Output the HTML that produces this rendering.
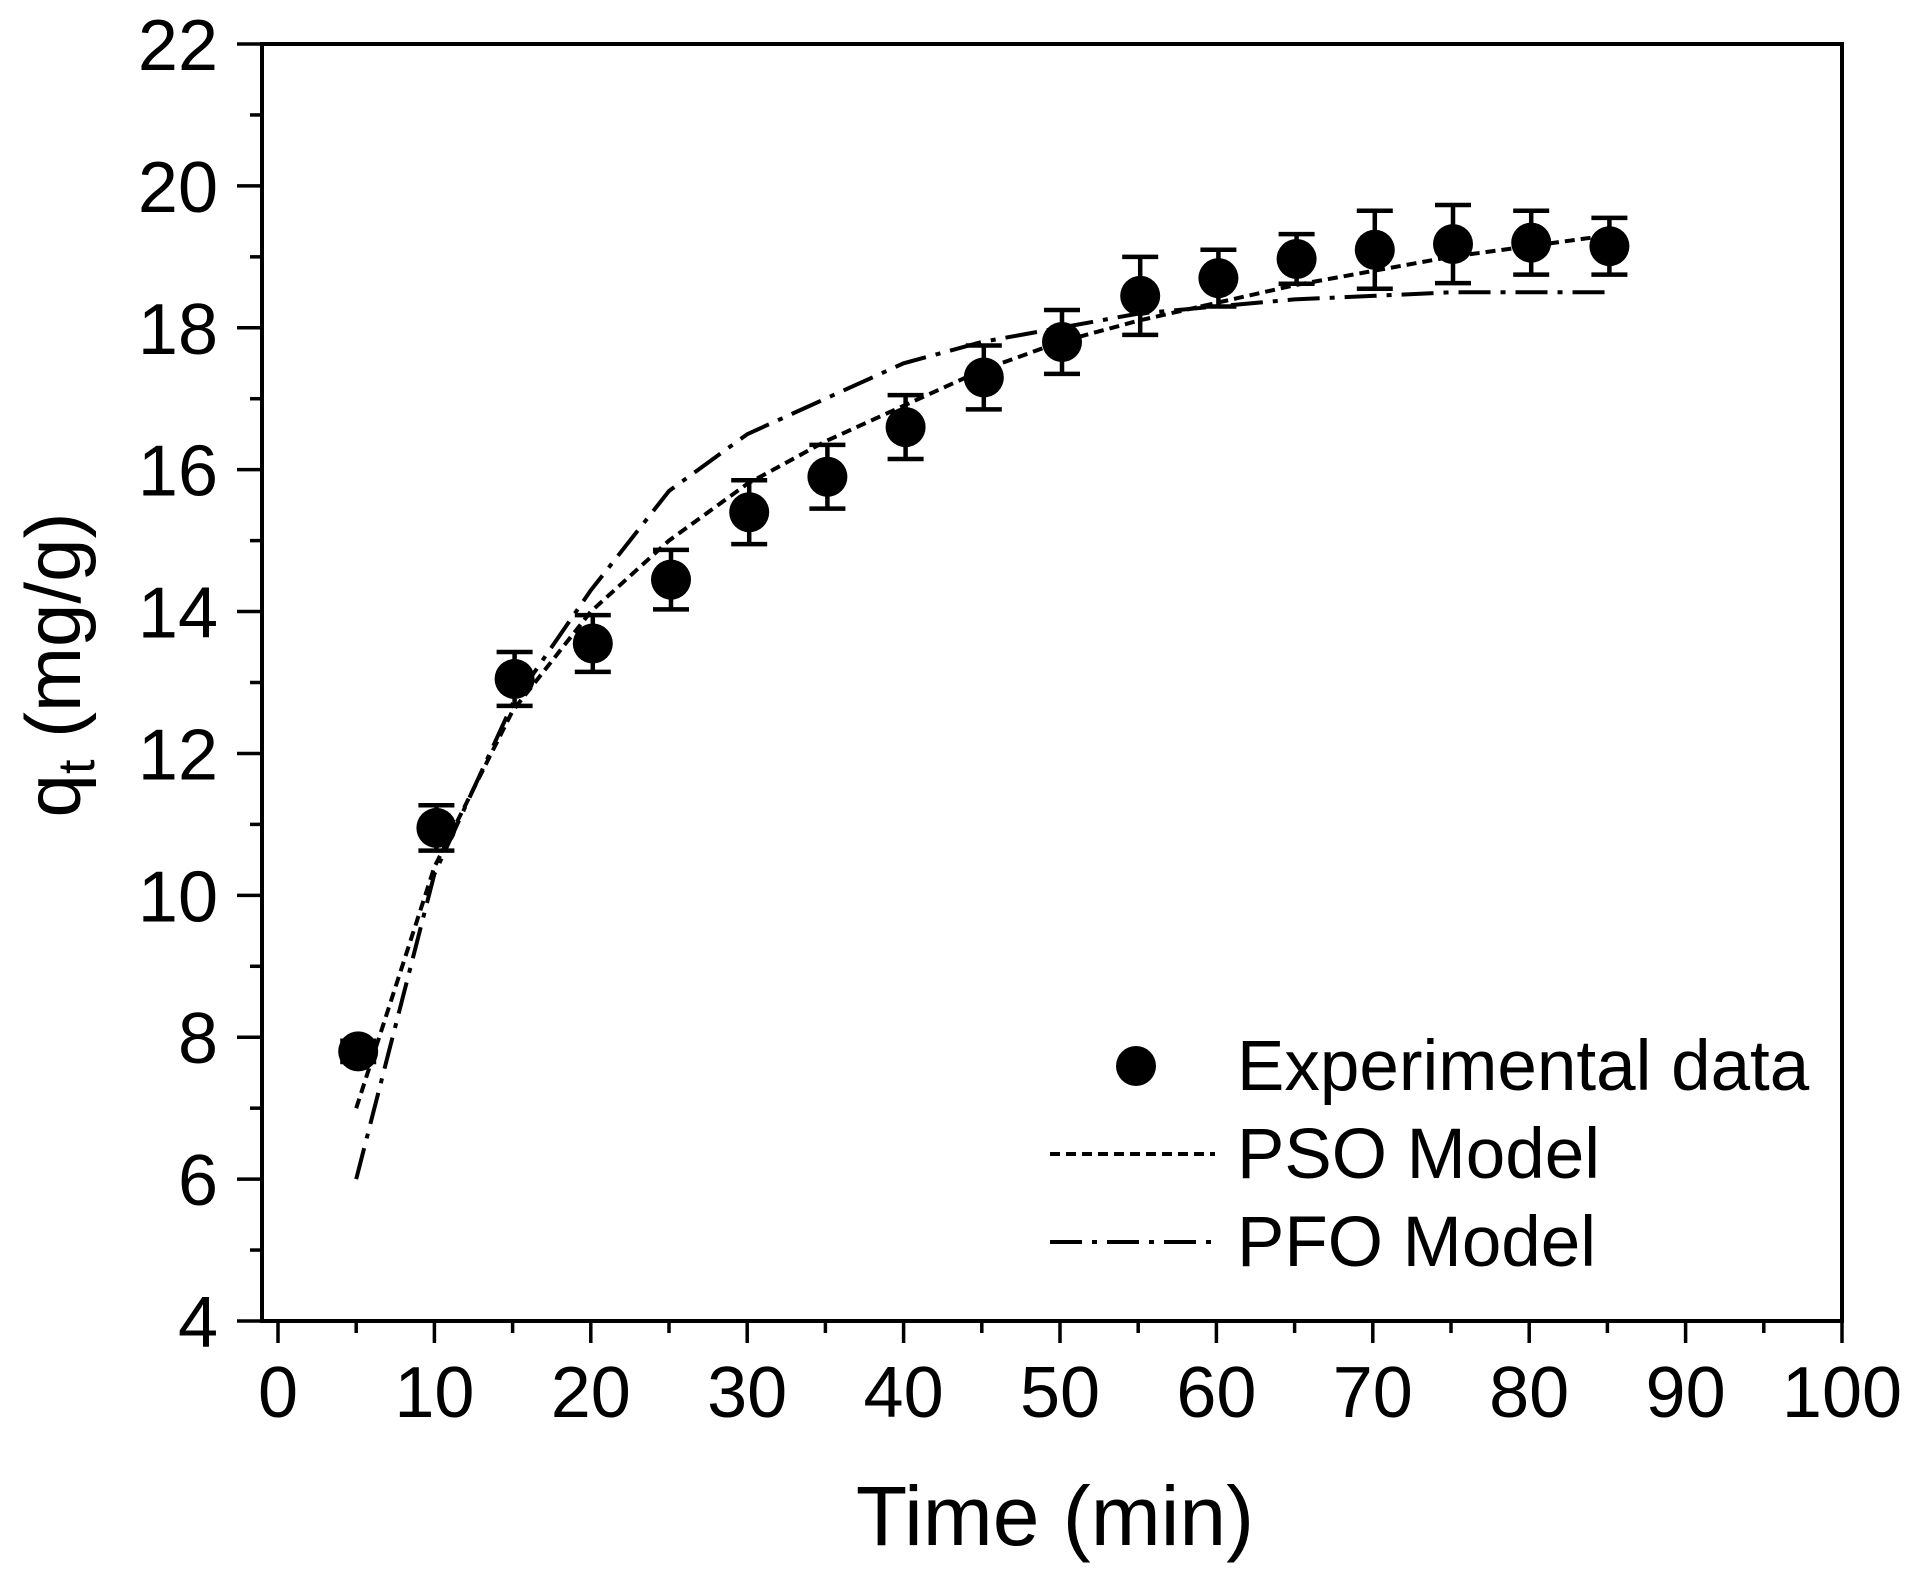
<!DOCTYPE html>
<html><head><meta charset="utf-8"><style>
html,body{margin:0;padding:0;background:#fff;}
svg{display:block;font-family:"Liberation Sans",Arial,sans-serif;}
</style></head><body>
<svg id="chart" width="1910" height="1574" viewBox="0 0 1910 1574" xmlns="http://www.w3.org/2000/svg">
<g id="axes"></g>
<g id="series"></g>
<g id="legend">
  <circle cx="1136" cy="1066" r="20" fill="#000"/>
  <text x="1237" y="1090" font-size="71">Experimental data</text>
  <line x1="1050" y1="1154" x2="1215" y2="1154" stroke="#000" stroke-width="4" stroke-dasharray="10 6"/>
  <text x="1237" y="1178" font-size="71">PSO Model</text>
  <line x1="1050" y1="1242" x2="1215" y2="1242" stroke="#000" stroke-width="4" stroke-dasharray="32 10 5 10"/>
  <text x="1237" y="1266" font-size="71">PFO Model</text>
</g>
<text x="1055" y="1545" font-size="84" text-anchor="middle">Time (min)</text>
<text transform="translate(80,665) rotate(-90)" font-size="78" text-anchor="middle">q<tspan font-size="52" dy="14">t</tspan><tspan dy="-14"> (mg/g)</tspan></text>
</svg>
<script>
const times = [5,10,15,20,25,30,35,40,45,50,55,60,65,70,75,80,85];
const qExp = [7.8,10.95,13.05,13.55,14.45,15.4,15.9,16.6,17.3,17.8,18.45,18.7,18.97,19.1,19.18,19.2,19.15];
const qErr = [0.15,0.32,0.38,0.4,0.42,0.45,0.45,0.45,0.45,0.45,0.55,0.4,0.35,0.55,0.55,0.45,0.4];
const qPSO = [7.0,10.4,12.6,14.0,15.0,15.8,16.4,16.9,17.4,17.8,18.1,18.35,18.6,18.8,19.0,19.15,19.3];
const qPFO = [6.0,10.3,12.7,14.3,15.7,16.5,17.0,17.5,17.8,18.0,18.2,18.3,18.4,18.45,18.5,18.5,18.5];
const xTicks = [0,10,20,30,40,50,60,70,80,90,100];
const yTicks = [4,6,8,10,12,14,16,18,20,22];

const NS='http://www.w3.org/2000/svg';
const X0=278,X1=1842,Y0=1321,Y1=44;
const sx=v=>X0+(v-0)/(100-0)*(X1-X0);
const sy=v=>Y0-(v-4)/(22-4)*(Y0-Y1);
function mk(tag,attrs,parent){const e=document.createElementNS(NS,tag);for(const k in attrs)e.setAttribute(k,attrs[k]);parent.appendChild(e);return e;}
const axes=document.getElementById('axes'), series=document.getElementById('series');

const frame=mk('rect',{x:262,y:Y1,width:X1-262,height:Y0-Y1,fill:'none',stroke:'#000','stroke-width':4},axes);



xTicks.forEach((t,i)=>{
  const tk=mk('line',{x1:sx(t),x2:sx(t),y1:Y0,y2:Y0+22,stroke:'#000','stroke-width':3.5},axes);
  
  
  if(i<xTicks.length-1){
    const m=mk('line',{x1:sx(t+5),x2:sx(t+5),y1:Y0,y2:Y0+12,stroke:'#000','stroke-width':3.5},axes);
    
    
  }
  const lb=mk('text',{x:sx(t),y:1417,'font-size':72,'text-anchor':'middle'},axes);
  lb.textContent=t;
  
  
});
yTicks.forEach((v,i)=>{
  const tk=mk('line',{x1:237,x2:262,y1:sy(v),y2:sy(v),stroke:'#000','stroke-width':3.5},axes);
  
  
  if(i<yTicks.length-1){
    const m=mk('line',{x1:250,x2:262,y1:sy(v+1),y2:sy(v+1),stroke:'#000','stroke-width':3.5},axes);
    
    
  }
  const lb=mk('text',{x:218,y:sy(v)+26,'font-size':72,'text-anchor':'end'},axes);
  lb.textContent=v;
  
  
});

function linePath(vals){return vals.map((v,i)=>(i?'L':'M')+sx(times[i]).toFixed(1)+','+sy(v).toFixed(1)).join(' ');}
const pso=mk('path',{d:linePath(qPSO),fill:'none',stroke:'#000','stroke-width':4,'stroke-dasharray':'10 6'},series);


const pfo=mk('path',{d:linePath(qPFO),fill:'none',stroke:'#000','stroke-width':4,'stroke-dasharray':'32 10 5 10'},series);



times.forEach((t,i)=>{
  const x=sx(t)+2, yt=sy(qExp[i]+qErr[i]), yb=sy(qExp[i]-qErr[i]);
  const eb=mk('path',{d:`M${x},${yt} V${yb} M${x-18},${yt} H${x+18} M${x-18},${yb} H${x+18}`,stroke:'#000','stroke-width':4.5,fill:'none'},series);
  
  
  const c=mk('circle',{cx:x,cy:sy(qExp[i]),r:20,fill:'#000'},series);
  
  
});
</script>
</body></html>
